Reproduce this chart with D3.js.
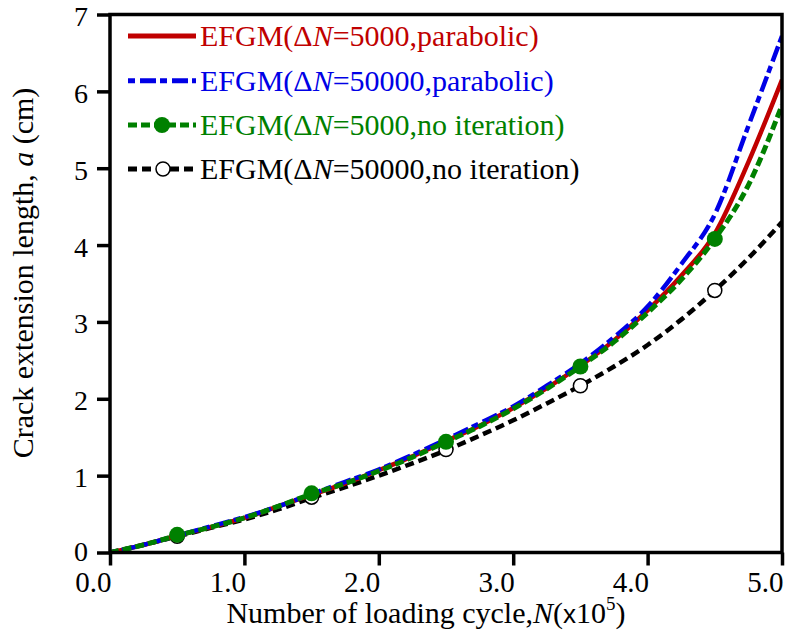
<!DOCTYPE html>
<html><head><meta charset="utf-8">
<script src="https://cdn.jsdelivr.net/npm/d3@7"></script>
<style>body{margin:0;background:#fff}svg{display:block}text{font-family:"Liberation Serif","Times New Roman",serif}</style>
</head><body><svg id="c" width="787" height="640"></svg>
<script>
const cycles = [0,0.25,0.5,0.75,1.0,1.25,1.5,1.75,2.0,2.25,2.5,2.75,3.0,3.25,3.5,3.75,4.0,4.25,4.5,4.75,5.0];
const redParabolic5000 = [0,0.1,0.22,0.33,0.45,0.6,0.75,0.9,1.07,1.25,1.45,1.65,1.88,2.14,2.43,2.76,3.15,3.6,4.15,5.08,6.15];
const blueParabolic50000 = [0,0.1,0.22,0.34,0.46,0.6,0.76,0.92,1.08,1.27,1.47,1.68,1.9,2.17,2.46,2.8,3.2,3.75,4.4,5.55,6.72];
const greenNoIter5000 = [0,0.1,0.22,0.33,0.45,0.6,0.76,0.9,1.06,1.24,1.44,1.64,1.87,2.13,2.42,2.74,3.12,3.55,4.08,4.78,5.82];
const blackNoIter50000 = [0,0.1,0.21,0.32,0.43,0.56,0.71,0.85,1.0,1.16,1.33,1.52,1.72,1.94,2.17,2.42,2.7,3.03,3.41,3.83,4.3];
const markerCycles = [0.5,1.5,2.5,3.5,4.5];
const greenMarkers = [0.23,0.77,1.44,2.42,4.08];
const blackMarkers = [0.21,0.72,1.34,2.17,3.41];
const xTicks = [0,1,2,3,4,5];
const xTickLabels = ["0.0","1.0","2.0","3.0","4.0","5.0"];
const yTicks = [0,1,2,3,4,5,6,7];

const svg = d3.select("#c");
const x = d3.scaleLinear().domain([0,5]).range([110,782]);
const y = d3.scaleLinear().domain([0,7]).range([552.5,14.5]);
const line = d3.line().curve(d3.curveMonotoneX);

function series(vals){ return cycles.map((c,i)=>[x(c),y(vals[i])]); }

svg.append("clipPath").attr("id","pc").append("rect")
  .attr("x",110).attr("y",14.5).attr("width",672).attr("height",538);
const g = svg.append("g").attr("clip-path","url(#pc)");

// black
g.append("path").attr("d",line(series(blackNoIter50000))).attr("fill","none")
  .attr("stroke","#000").attr("stroke-width",4.5).attr("stroke-dasharray","9,5");
g.selectAll(".bm").data(markerCycles).enter().append("circle")
  .attr("cx",d=>x(d)).attr("cy",(d,i)=>y(blackMarkers[i])).attr("r",7)
  .attr("fill","#fff").attr("stroke","#000").attr("stroke-width",1.5);
// red
g.append("path").attr("d",line(series(redParabolic5000))).attr("fill","none")
  .attr("stroke","#c00000").attr("stroke-width",4.5);
// blue
g.append("path").attr("d",line(series(blueParabolic50000))).attr("fill","none")
  .attr("stroke","#0000e6").attr("stroke-width",4.5).attr("stroke-dasharray","7,5,16,4");
// green
g.append("path").attr("d",line(series(greenNoIter5000))).attr("fill","none")
  .attr("stroke","#008000").attr("stroke-width",5).attr("stroke-dasharray","9,4");
g.selectAll(".gm").data(markerCycles).enter().append("circle")
  .attr("cx",d=>x(d)).attr("cy",(d,i)=>y(greenMarkers[i])).attr("r",8)
  .attr("fill","#008000");

// frame
const fw = 3.5;
svg.append("rect").attr("x",110).attr("y",14.5).attr("width",672).attr("height",538)
  .attr("fill","none").attr("stroke","#000").attr("stroke-width",fw);

// axes
const xAxis = d3.axisBottom(x).tickValues(xTicks).tickSize(13).tickFormat((d,i)=>xTickLabels[i]);
const gx = svg.append("g").attr("transform","translate(0,552.5)").call(xAxis);
gx.select(".domain").remove();
gx.selectAll(".tick line").attr("stroke","#000").attr("stroke-width",fw);
gx.selectAll(".tick text").attr("font-size",29).attr("fill","#000")
  .attr("text-anchor","end").attr("x",1).attr("y",0).attr("dy",null)
  .attr("transform","translate(0,39.5)")
  .attr("font-family","Liberation Serif");

const yAxis = d3.axisLeft(y).tickValues(yTicks).tickSize(13).tickFormat(d3.format("d"));
const gy = svg.append("g").attr("transform","translate(110,0)").call(yAxis);
gy.select(".domain").remove();
gy.selectAll(".tick line").attr("stroke","#000").attr("stroke-width",fw);
gy.selectAll(".tick text").attr("font-size",28).attr("fill","#000")
  .attr("x",-22).attr("dy",d=>d===0?7.5:11).attr("font-family","Liberation Serif");

// axis titles
const xt = svg.append("text").attr("x",426).attr("y",623).attr("text-anchor","middle")
  .attr("font-size",30).attr("fill","#000");
xt.append("tspan").text("Number of loading cycle,");
xt.append("tspan").attr("font-style","italic").text("N");
xt.append("tspan").text("(");
xt.append("tspan").attr("font-family","Liberation Sans").attr("font-size",26).text("x");
xt.append("tspan").text("10");
xt.append("tspan").attr("font-size",19).attr("dy",-13).text("5");
xt.append("tspan").attr("dy",13).text(")");

const yt = svg.append("text").attr("transform","translate(33,273) rotate(-90)")
  .attr("text-anchor","middle").attr("font-size",30).attr("fill","#000");
yt.append("tspan").text("Crack extension length, ");
yt.append("tspan").attr("font-style","italic").text("a");
yt.append("tspan").text(" (cm)");

// legend
const legendNames = ["5000,parabolic)","50000,parabolic)","5000,no iteration)","50000,no iteration)"];
const legendColors = ["#c00000","#0000e6","#008000","#000"];
const legendY = [36,80.7,125,169];
const legendDash = [null,"7,5,16,4","9,4","9,5"];
const lg = svg.append("g");
legendNames.forEach((nm,i)=>{
  lg.append("line").attr("x1",128).attr("x2",196).attr("y1",legendY[i]).attr("y2",legendY[i])
    .attr("stroke",legendColors[i]).attr("stroke-width",5).attr("stroke-dasharray",legendDash[i]);
  if(i===2) lg.append("circle").attr("cx",162).attr("cy",legendY[i]).attr("r",8).attr("fill","#008000");
  if(i===3) lg.append("circle").attr("cx",163).attr("cy",legendY[i]).attr("r",7).attr("fill","#fff").attr("stroke","#000").attr("stroke-width",1.5);
  const t = lg.append("text").attr("x",200).attr("y",legendY[i]+10).attr("font-size",30).attr("fill",legendColors[i]);
  t.append("tspan").text("EFGM(\u0394");
  t.append("tspan").attr("font-style","italic").text("N");
  t.append("tspan").text("="+nm);
});
</script></body></html>
